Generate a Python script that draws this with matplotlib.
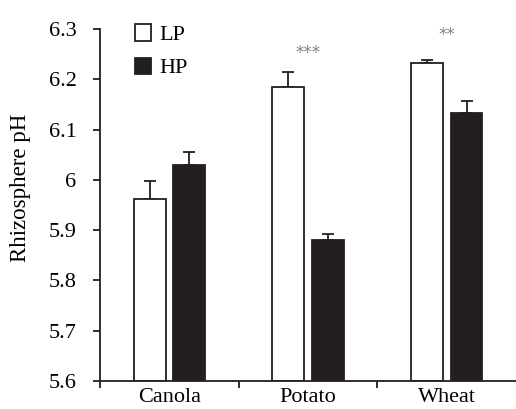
import numpy as np
import matplotlib.pyplot as plt

plt.rcParams['font.family'] = ['Liberation Serif', 'DejaVu Serif']

# Data
crops = ["Canola", "Potato", "Wheat"]
lp_mean = [5.962, 6.184, 6.232]
lp_err = [0.036, 0.030, 0.006]
hp_mean = [6.030, 5.880, 6.134]
hp_err = [0.025, 0.013, 0.022]
signif = ["", "***", "**"]
signif_y = [None, 6.253, 6.289]

ink = "#231f20"
x = np.arange(len(crops)) + 0.5
w = 0.23
off = 0.143
base = 5.6

fig = plt.figure(figsize=(5.16, 4.09), dpi=100)
ax = fig.add_axes([0.194, 0.0685, 0.806, 0.8605])

ax.bar(x - off, np.array(lp_mean) - base, w, bottom=base, color="white",
       edgecolor=ink, linewidth=1.3, label="LP", zorder=2)
ax.bar(x + off, np.array(hp_mean) - base, w, bottom=base, color=ink,
       edgecolor=ink, linewidth=1.3, label="HP", zorder=2)
ax.errorbar(x - off, lp_mean, yerr=[np.zeros(3), lp_err], fmt="none",
            ecolor=ink, elinewidth=1.3, capsize=4, capthick=1.3, zorder=1)
ax.errorbar(x + off, hp_mean, yerr=[np.zeros(3), hp_err], fmt="none",
            ecolor=ink, elinewidth=1.3, capsize=4, capthick=1.3, zorder=1)

for xi, ys, s in zip(x, signif_y, signif):
    if s:
        ax.text(xi, ys, s, ha="center", va="center", fontsize=12,
                color="#808080", family="DejaVu Sans")

ax.set_xlim(0, 3)
ax.set_ylim(5.6, 6.3)
ax.set_yticks(np.arange(5.6, 6.31, 0.1))
ax.set_yticklabels(["5.6", "5.7", "5.8", "5.9", "6", "6.1", "6.2", "6.3"])
ax.set_xticks([0, 1, 2])
ax.set_xticks(x, minor=True)
ax.set_xticklabels([])
ax.set_xticklabels(crops, minor=True)
ax.tick_params(axis="x", which="minor", length=0, pad=5, labelsize=16)
ax.tick_params(axis="x", which="major", length=5, width=1.3, color=ink)
ax.tick_params(axis="y", length=5, width=1.3, color=ink, labelsize=16, pad=12)
for side in ["top", "right"]:
    ax.spines[side].set_visible(False)
for side in ["left", "bottom"]:
    ax.spines[side].set_linewidth(1.3)
    ax.spines[side].set_color(ink)
ax.set_ylabel("Rhizosphere pH", fontsize=16.5)
ax.yaxis.set_label_coords(-0.165, 0.55)

ax.legend(loc="upper left", bbox_to_anchor=(0.035, 1.07), frameon=False,
          fontsize=16, handlelength=0.75, handleheight=0.75, handletextpad=0.35,
          labelspacing=0.55)

fig.savefig("out.png", dpi=100)
